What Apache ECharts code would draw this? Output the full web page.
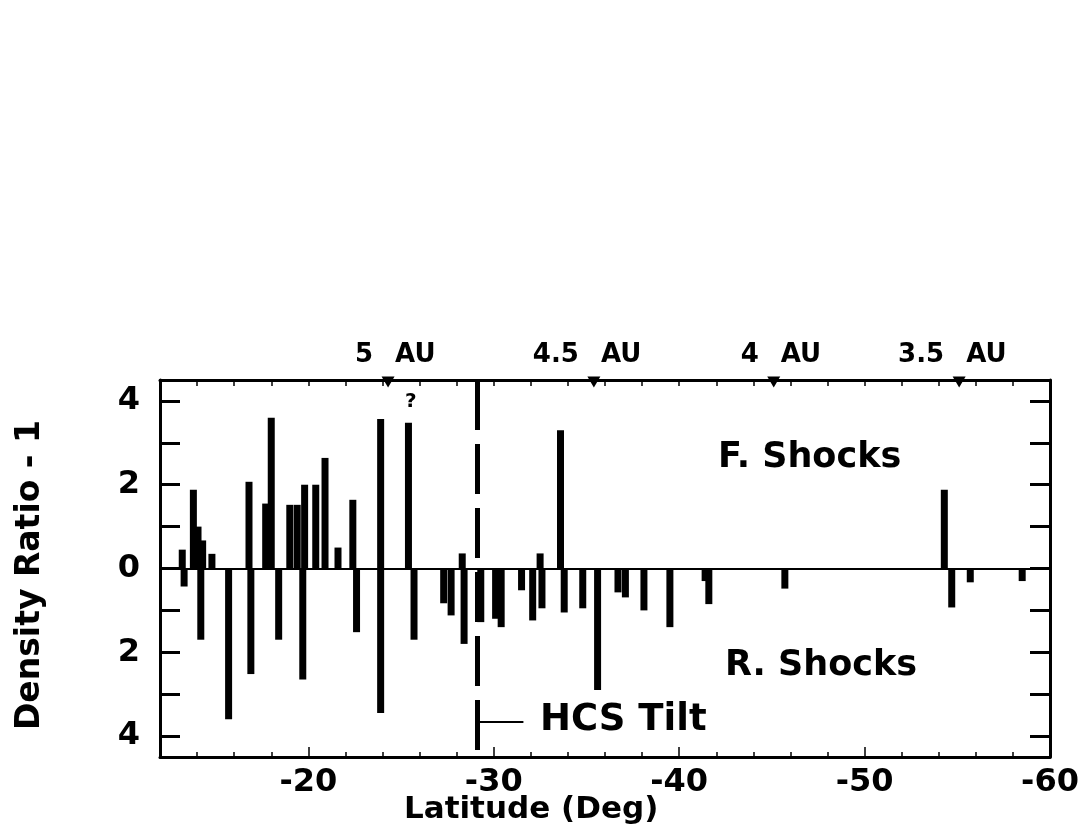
<!DOCTYPE html>
<html><head><meta charset="utf-8">
<script src="https://cdn.jsdelivr.net/npm/echarts@6/dist/echarts.min.js"></script>
<style>html,body{margin:0;padding:0;background:#fff}#c{width:1083px;height:838px}</style>
</head><body><div id="c"></div>
<script>
// Forward shocks (plotted upward): latitude (deg) and density ratio - 1
const fLat = [-13.2, -13.8, -14.05, -14.3, -14.8, -16.8, -17.7, -18.0, -19.0, -19.4, -19.8, -20.4, -20.9, -21.6, -22.4, -23.9, -25.4, -28.3, -32.5, -33.6, -54.3];
const fVal = [0.45, 1.88, 1.0, 0.67, 0.35, 2.07, 1.55, 3.6, 1.52, 1.52, 2.0, 2.0, 2.64, 0.5, 1.64, 3.57, 3.48, 0.36, 0.36, 3.3, 1.88];
// Reverse shocks (plotted downward)
const rLat = [-13.3, -14.2, -15.7, -16.9, -18.4, -19.7, -22.6, -23.9, -25.7, -27.3, -27.7, -28.4, -29.3, -30.1, -30.4, -31.5, -32.1, -32.6, -33.8, -34.8, -35.6, -36.7, -37.1, -38.1, -39.5, -41.4, -41.6, -45.7, -54.7, -55.7, -58.5];
const rVal = [-0.43, -1.7, -3.6, -2.52, -1.7, -2.65, -1.52, -3.45, -1.7, -0.83, -1.12, -1.8, -1.28, -1.2, -1.4, -0.52, -1.24, -0.95, -1.05, -0.95, -2.9, -0.57, -0.69, -1.0, -1.4, -0.3, -0.85, -0.48, -0.93, -0.33, -0.3];
// Heliocentric distance markers on top axis
const auLat = [-24.3, -35.4, -45.1, -55.1];
const auNum = ['5', '4.5', '4', '3.5'];
const hcsLat = -29.1;
const hcsLabelY = -3.67;
const hcsLineEnd = -31.6;
// Axis ticks and labels
const xLabelTicks = [-60, -50, -40, -30, -20];
const xMinorTicks = [-58, -56, -54, -52, -50, -48, -46, -44, -42, -40, -38, -36, -34, -32, -30, -28, -26, -24, -22, -20, -18, -16, -14];
const yLabelTicks = [-4, -2, 0, 2, 4];
const yTicks = [-4, -3, -2, -1, 0, 1, 2, 3, 4];

const FONT = '"DejaVu Sans", sans-serif';
const chart = echarts.init(document.getElementById('c'), null, {renderer: 'canvas'});

const barData = fLat.map((x, i) => [x, fVal[i]]).concat(rLat.map((x, i) => [x, rVal[i]]));

const baseX = {
  type: 'value', min: -60, max: -12, inverse: true, gridIndex: 0,
  splitLine: {show: false}
};
const txt = (s, size) => ({fontFamily: FONT, fontWeight: 'bold', fontSize: size, fill: '#000', text: s});
const auLabel = {color: '#000', opacity: 1, fontFamily: FONT, fontWeight: 'bold', fontSize: 26};

chart.setOption({
  animation: false,
  backgroundColor: '#fff',
  grid: {left: 160, right: 33, top: 380, bottom: 81, containLabel: false},
  xAxis: [
    Object.assign({}, baseX, {
      position: 'bottom',
      axisLine: {onZero: false, lineStyle: {color: '#000', width: 3}},
      axisTick: {inside: true, length: 5, customValues: xMinorTicks, lineStyle: {color: '#000', width: 1.5}},
      axisLabel: {customValues: xLabelTicks, color: '#000', fontFamily: FONT, fontWeight: 'bold', fontSize: 32, margin: 10}
    }),
    Object.assign({}, baseX, {
      position: 'top',
      axisLine: {onZero: false, lineStyle: {color: '#000', width: 3}},
      axisTick: {inside: true, length: 6, customValues: xMinorTicks, lineStyle: {color: '#000', width: 1.5}},
      axisLabel: {show: false}
    }),
    Object.assign({}, baseX, {
      position: 'bottom',
      axisLine: {show: false, onZero: false},
      axisTick: {inside: true, length: 10, customValues: xLabelTicks, lineStyle: {color: '#000', width: 1.5}},
      axisLabel: {show: false}
    })
  ],
  yAxis: [
    {
      type: 'value', min: -4.5, max: 4.5, position: 'left',
      splitLine: {show: false},
      axisLine: {onZero: false, lineStyle: {color: '#000', width: 3}},
      axisTick: {inside: true, length: 20, customValues: yTicks, lineStyle: {color: '#000', width: 3}},
      axisLabel: {customValues: yLabelTicks, formatter: v => String(Math.abs(v)), color: '#000', fontFamily: FONT, fontWeight: 'bold', fontSize: 32, margin: 20}
    },
    {
      type: 'value', min: -4.5, max: 4.5, position: 'right',
      splitLine: {show: false},
      axisLine: {onZero: false, lineStyle: {color: '#000', width: 3}},
      axisTick: {inside: true, length: 20, customValues: yTicks, lineStyle: {color: '#000', width: 3}},
      axisLabel: {show: false}
    }
  ],
  series: [
    {
      type: 'bar', xAxisIndex: 0, yAxisIndex: 0,
      data: barData, barWidth: 7, barGap: '-100%',
      itemStyle: {color: '#000'},
      markLine: {
        silent: true, symbol: 'none', label: {show: false}, animation: false,
        data: [
          [{coord: [-12, 0], lineStyle: {color: '#000', width: 2, type: 'solid'}}, {coord: [-60, 0]}],
          [{coord: [hcsLat, 4.5], lineStyle: {color: '#000', width: 5, type: [50, 14]}}, {coord: [hcsLat, -4.5]}],
          [{coord: [hcsLat, hcsLabelY], lineStyle: {color: '#000', width: 2, type: 'solid'}}, {coord: [hcsLineEnd, hcsLabelY]}]
        ]
      }
    },
    {
      type: 'scatter', xAxisIndex: 0, yAxisIndex: 0, clip: false, silent: true,
      data: auLat.map(x => [x, 4.5]),
      symbol: 'triangle', symbolRotate: 180, symbolSize: [13, 11], symbolOffset: [0, 2],
      itemStyle: {color: '#000', opacity: 1},
      label: Object.assign({show: true, position: 'top', distance: 8, align: 'left', offset: [7, 0], formatter: 'AU'}, auLabel)
    },
    {
      type: 'scatter', xAxisIndex: 0, yAxisIndex: 0, clip: false, silent: true,
      data: auLat.map(x => [x, 4.5]),
      symbol: 'circle', symbolSize: [13, 11], symbolOffset: [0, 2],
      itemStyle: {color: 'rgba(0,0,0,0)'},
      label: Object.assign({show: true, position: 'top', distance: 8, align: 'right', offset: [-15, 0],
        formatter: p => auNum[p.dataIndex]}, auLabel)
    }
  ],
  graphic: [
    {type: 'text', left: 718, top: 440, style: txt('F. Shocks', 35)},
    {type: 'text', left: 725, top: 648, style: txt('R. Shocks', 35)},
    {type: 'text', left: 540, top: 702, style: txt('HCS Tilt', 37)},
    {type: 'text', left: 405, top: 392, style: txt('?', 20)},
    {type: 'text', left: 404, top: 794, style: txt('Latitude (Deg)', 31)},
    {type: 'text', left: 14, top: 420, rotation: Math.PI / 2, style: txt('Density Ratio - 1', 33)}
  ]
});
</script></body></html>
